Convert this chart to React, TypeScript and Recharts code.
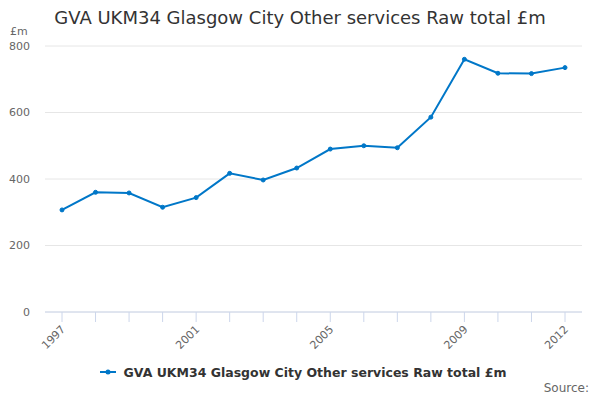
import React from 'react';
import { LineChart, Line, XAxis, YAxis, CartesianGrid, Legend } from 'recharts';

const years = ['1997','1998','1999','2000','2001','2002','2003','2004','2005','2006','2007','2008','2009','2010','2011','2012'];
const values = [307, 360, 358, 315, 344, 417, 397, 433, 490, 500, 494, 586, 760, 718, 717, 735];
const yTicks = [0, 200, 400, 600, 800];
const labelledYears = ['1997', '2001', '2005', '2009', '2012'];
const seriesName = 'GVA UKM34 Glasgow City Other services Raw total £m';

const data = years.map((y, i) => ({ year: y, value: values[i] }));

const FONT = '"DejaVu Sans", sans-serif';
const LINE = '#0077c8';

const XTick = (props: any) => {
  const { x, y, payload } = props;
  if (!labelledYears.includes(payload.value)) return null;
  return (
    <text
      x={x + 4}
      y={y + 6}
      transform={`rotate(-45, ${x + 4}, ${y + 6})`}
      textAnchor="end"
      fontSize={11}
      fill="#666"
      fontFamily={FONT}
    >
      {payload.value}
    </text>
  );
};

const LegendContent = () => (
  <div style={{ height: 20, display: 'flex', justifyContent: 'center', alignItems: 'center', fontFamily: FONT, paddingLeft: 24 }}>
    <svg width={20} height={10} style={{ marginRight: 4 }}>
      <line x1={0} y1={5} x2={16} y2={5} stroke={LINE} strokeWidth={2} />
      <circle cx={8} cy={5} r={2.5} fill={LINE} />
    </svg>
    <span style={{ fontSize: 12.5, fontWeight: 'bold', color: '#333' }}>{seriesName}</span>
  </div>
);

export default function App() {
  return (
    <div style={{ position: 'absolute', left: 0, top: 0, width: 600, height: 400, background: '#fff', fontFamily: FONT }}>
      <div style={{ position: 'absolute', top: 7, left: 0, width: 600, textAlign: 'center', fontSize: 18, color: '#333' }}>
        {seriesName}
      </div>
      <div style={{ position: 'absolute', top: 25, left: 10, fontSize: 11, color: '#666' }}>£m</div>
      <LineChart width={600} height={400} data={data} margin={{ top: 46, right: 18, left: 0, bottom: 18 }}>
        <CartesianGrid horizontal vertical={false} stroke="#e6e6e6" />
        <XAxis
          dataKey="year"
          interval={0}
          height={50}
          padding={{ left: 17, right: 17 }}
          tick={<XTick />}
          tickSize={10}
          axisLine={{ stroke: '#ccd6eb' }}
          tickLine={{ stroke: '#ccd6eb' }}
        />
        <YAxis
          domain={[0, 800]}
          ticks={yTicks}
          width={45}
          axisLine={false}
          tickLine={false}
          tickSize={0}
          tickMargin={15}
          tick={{ fontSize: 11, fill: '#666', fontFamily: FONT }}
        />
        <Legend verticalAlign="bottom" content={<LegendContent />} />
        <Line
          dataKey="value"
          name={seriesName}
          stroke={LINE}
          strokeWidth={2}
          dot={{ r: 2, fill: LINE, stroke: LINE, strokeWidth: 1 }}
          isAnimationActive={false}
        />
      </LineChart>
      <div style={{ position: 'absolute', top: 381, right: 11, fontSize: 12, color: '#666' }}>Source:</div>
    </div>
  );
}
